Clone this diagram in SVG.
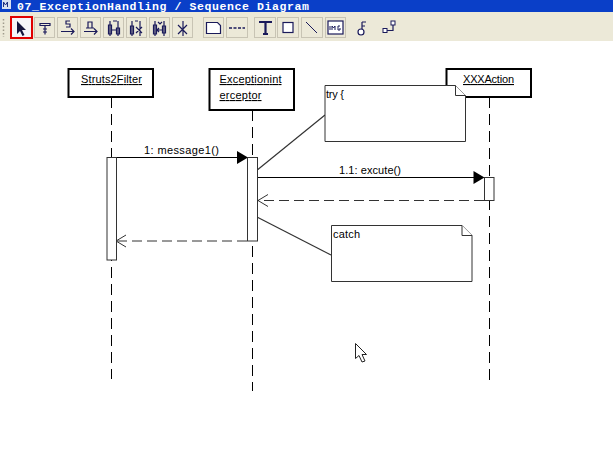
<svg xmlns="http://www.w3.org/2000/svg" width="613" height="471" viewBox="0 0 613 471">
<style>
text{font-family:"Liberation Sans",Arial,sans-serif;font-size:11px;fill:#000}
.obj{fill:#fff;stroke:#000;stroke-width:2}
.act{fill:#fff;stroke:#333;stroke-width:1}
.note{fill:#fff;stroke:#333;stroke-width:1}
.life{fill:none;stroke:#000;stroke-width:1;stroke-dasharray:11 6}
.msg{fill:none;stroke:#000;stroke-width:1}
.ret{fill:none;stroke:#333;stroke-width:1;stroke-dasharray:10 5}
.open{fill:none;stroke:#333;stroke-width:1}
.link{fill:none;stroke:#333;stroke-width:1.200}
.btn{fill:#ece9d8;stroke:#c8c4b4;stroke-width:1}
.ic{fill:none;stroke:#1a1a5a;stroke-width:1.200}
.ul{text-decoration:underline}
</style>
<rect width="613" height="471" fill="#fff"/>
<g id="titlebar">
<rect width="613" height="12" fill="#0a3fc8"/>
<rect x="2" y="0" width="9" height="9" fill="#d8e0f0"/>
<path d="M3.500 7V2l2 3 2-3v5" fill="none" stroke="#203080"/>
<text x="17" y="9.500" textLength="292" style="font-family:'Liberation Mono',monospace;font-size:11.500px;font-weight:bold;fill:#fff">07_ExceptionHandling / Sequence Diagram</text>
</g>
<g id="toolbar">
<rect y="12" width="613" height="29" fill="#ece9d8"/>
<path d="M3.500 19v18" stroke="#a09c8c" stroke-width="1.500" stroke-dasharray="1.500 2" fill="none"/>
<rect x="11" y="17" width="21" height="21" fill="#f4f4f8" stroke="#e00000" stroke-width="2"/>
<path d="M17 21v13l3-3 2.500 5 2-1-2.500-5h4z" fill="#14143c"/>
<rect class="btn" x="34.500" y="17.500" width="20" height="20"/>
<path class="ic" d="M40 23.500h10v2h-10zM45 25.500v9M43 29h4M43 32h4"/>
<rect class="btn" x="57.500" y="17.500" width="20" height="20"/>
<path class="ic" d="M61 31.500h13M71 28.500l3 3-3 3M70 21h-4v3h4v3h-4"/>
<rect class="btn" x="80.500" y="17.500" width="20" height="20"/>
<path class="ic" d="M84 31.500h13M94 28.500l3 3-3 3M88 28v-6h4v6M86 28h8"/>
<rect class="btn" x="103.500" y="17.500" width="20" height="20"/>
<path class="ic" d="M110 21v15M118 21v15M108.500 25h3v9h-3zM116.500 28h3v6h-3zM112 30h4M113 21h4"/>
<rect class="btn" x="126.500" y="17.500" width="20" height="20"/>
<path class="ic" d="M132 21v15M140 21v15M130.500 26h3v8h-3zM135 21h3M136 33l6-6M136 27l6 6"/>
<rect class="btn" x="149.500" y="17.500" width="20" height="20"/>
<path class="ic" d="M155 21v15M164 21v15M153.500 25h3v9h-3zM162.500 26h3v7h-3zM157 30h5M159 28l-2 2 2 2M158 22l2 2 2-2"/>
<rect class="btn" x="172.500" y="17.500" width="20" height="20"/>
<path class="ic" d="M183 21v15M178 25l9 9M187 25l-9 9"/>
<rect class="btn" x="203.500" y="17.500" width="20" height="20"/>
<path d="M206.500 22.500h11l3 3v8h-14z" fill="#fff" stroke="#1a1a5a" stroke-width="1.200"/>
<rect class="btn" x="226.500" y="17.500" width="21" height="20"/>
<path d="M229 28h16" stroke="#1a1a5a" stroke-width="1.600" stroke-dasharray="3 1.500" fill="none"/>
<rect class="btn" x="254.500" y="17.500" width="21" height="20"/>
<path d="M259 22h13M265.500 22v12M263 34h5" stroke="#1a1a5a" stroke-width="2.200" fill="none"/>
<rect class="btn" x="277.500" y="17.500" width="21" height="20"/>
<rect x="283" y="22.500" width="10" height="10" fill="#fff" stroke="#1a1a5a" stroke-width="1.200"/>
<rect class="btn" x="301.500" y="17.500" width="21" height="20"/>
<path d="M306 22l11 11" stroke="#1a1a5a" stroke-width="1" fill="none"/>
<rect class="btn" x="325.500" y="17.500" width="20" height="20"/>
<rect x="328" y="21" width="15" height="13" fill="#fff" stroke="#1a1a5a" stroke-width="1.200"/>
<path d="M330 26v4M332 30v-4l1.500 2 1.500-2v4M340 26h-2v4h2v-2" stroke="#1a1a5a" stroke-width="1" fill="none"/>
<path class="ic" d="M362 22h4M362 22v10M362 26h3"/>
<circle cx="361" cy="32" r="3" fill="#fff" stroke="#1a1a5a" stroke-width="1.200"/>
<path class="ic" d="M383 30.500h10v-8"/>
<rect x="383" y="28.500" width="4" height="4" fill="#fff" stroke="#1a1a5a"/>
<rect x="391" y="21" width="4" height="4" fill="#fff" stroke="#1a1a5a"/>
</g>
<g id="connectors">
<line class="life" x1="111.500" y1="97" x2="111.500" y2="379"/>
<line class="life" x1="252.500" y1="110" x2="252.500" y2="391"/>
<line class="life" x1="489.500" y1="97" x2="489.500" y2="380"/>
<line class="msg" x1="116" y1="157.500" x2="238" y2="157.500"/>
<path d="M248 157.500l-11-6.500v13z" fill="#000"/>
<line class="msg" x1="257" y1="177.500" x2="474" y2="177.500"/>
<path d="M484.500 177.500l-11-6.500v13z" fill="#000"/>
<line class="ret" x1="484" y1="200.500" x2="258" y2="200.500"/>
<path class="open" d="M268 194.500l-10 6 10 6"/>
<line class="ret" x1="247" y1="241" x2="117" y2="241"/>
<path class="open" d="M126 235l-10 6 10 6"/>
<line class="link" x1="325" y1="115" x2="256" y2="171"/>
<line class="link" x1="331" y1="255" x2="255" y2="216"/>
</g>
<g id="struts2filter">
<rect class="obj" x="68.500" y="69" width="84.500" height="28"/>
<text class="ul" x="81" y="83" textLength="61">Struts2Filter</text>
<rect class="act" x="107" y="157.500" width="9.500" height="102.500"/>
</g>
<g id="exceptioninterceptor">
<rect class="obj" x="209.500" y="69" width="84.500" height="41"/>
<text class="ul" x="219.500" y="83" textLength="62">Exceptionint</text>
<text class="ul" x="219.500" y="99" textLength="42">erceptor</text>
<rect class="act" x="247.500" y="157.500" width="10" height="83.500"/>
</g>
<g id="xxxaction">
<rect class="obj" x="446.500" y="69" width="84.500" height="28"/>
<text class="ul" x="463" y="83" textLength="51">XXXAction</text>
<rect class="act" x="484.500" y="177.500" width="9.500" height="23"/>
</g>
<g id="note-try">
<path class="note" d="M325 85.500h130.500l10 10v46h-140.500z"/>
<path class="note" d="M455.500 85.500v10h10"/>
<text x="326" y="98" textLength="18">try {</text>
</g>
<g id="note-catch">
<path class="note" d="M331.500 225.500h130.500l10 10v46h-140.500z"/>
<path class="note" d="M462 225.500v10h10"/>
<text x="333" y="238" textLength="27">catch</text>
</g>
<g id="labels">
<text x="144" y="154" textLength="75">1: message1()</text>
<text x="339" y="174" textLength="62">1.1: excute()</text>
</g>
<g id="cursor">
<path d="M355.500 343.500v15l3.500-3 3 6.500 3-1-3-6.500h4.500z" fill="#fff" stroke="#222" stroke-width="1"/>
</g>
</svg>
